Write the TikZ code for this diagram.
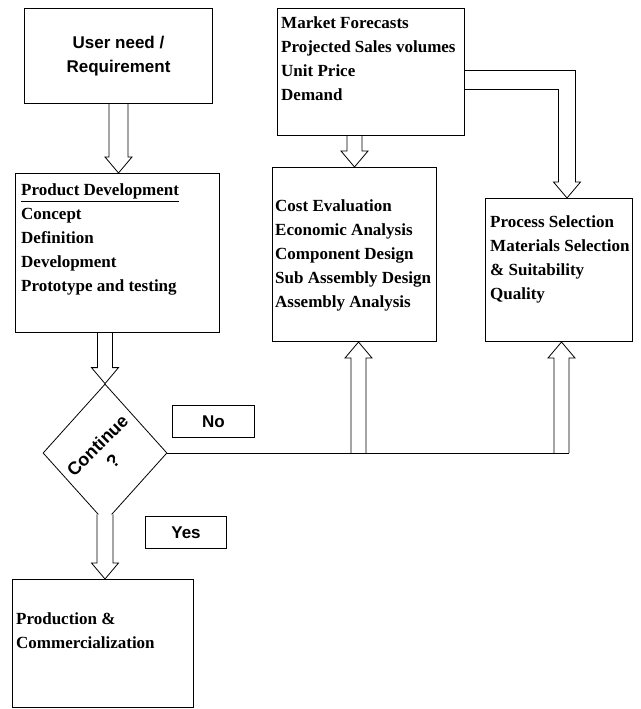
\documentclass[tikz,border=0pt]{standalone}
\usepackage{fontspec}
\setmainfont{Liberation Serif}
\newfontfamily\arial{Liberation Sans}
\usepackage{tikz}
\usetikzlibrary{positioning,calc,shapes.geometric}

% hollow block arrow: [shaft half width]{start}{tip}
\newcommand{\bigarrow}[3][7.5pt]{%
  \draw[blockarr] let \p1=#2, \p2=#3, \n1={ifthenelse(\y2>\y1,1,-1)} in
    ({\x2-#1},{\y1}) -- ({\x2-#1},{\y2-(\n1)*16pt}) -- ({\x2-13.5pt},{\y2-(\n1)*16pt}) -- (\x2,\y2)
    -- ({\x2+13.5pt},{\y2-(\n1)*16pt}) -- ({\x2+#1},{\y2-(\n1)*16pt}) -- ({\x2+#1},{\y1});}

\begin{document}
\begin{tikzpicture}[x=1pt,y=-1pt,
  box/.style={draw,line width=1pt,inner sep=0pt,anchor=north west},
  serif/.style={font=\bfseries\fontsize{17}{24}\selectfont,align=left,inner sep=0pt,anchor=north west},
  sans/.style={font=\arial\bfseries\fontsize{17}{24}\selectfont,align=center},
  blockarr/.style={draw,line width=0.8pt,fill=white,line join=miter}]
\useasboundingbox (0,0) rectangle (640,709);

\node[box,minimum width=188,minimum height=95,sans] (user) at (24,8) {User need /\\Requirement};
\node[box,minimum width=204,minimum height=159] (pd) at (15,173) {};
\node[serif] (pdtxt) at ($(pd.north west)+(6,11)$) {\underline{Product Development}\\Concept\\Definition\\Development\\Prototype and testing};
\node[box,minimum width=187,minimum height=127] (market) at (277,8) {};
\node[serif] (markettxt) at ($(market.north west)+(4,9)$) {Market Forecasts\\Projected Sales volumes\\Unit Price\\Demand};
\node[box,minimum width=164,minimum height=174] (cost) at (272,167) {};
\node[serif] (costtxt) at ($(cost.north west)+(3,33)$) {Cost Evaluation\\Economic Analysis\\Component Design\\Sub Assembly Design\\Assembly Analysis};
\node[box,minimum width=147,minimum height=143] (process) at (485,198) {};
\node[serif] (processtxt) at ($(process.north west)+(5,18)$) {Process Selection\\Materials Selection\\\& Suitability\\Quality};
\node[box,minimum width=181,minimum height=128] (prod) at (12,579) {};
\node[serif] (prodtxt) at ($(prod.north west)+(4,33)$) {Production \&\\Commercialization};

\node[draw,diamond,line width=0.8pt,minimum width=124,minimum height=138,inner sep=0pt] (cont) at (105,453) {};
\node[sans,rotate=45,font=\arial\bfseries\fontsize{18}{22}\selectfont] (conttxt) at (cont.center) {Continue\\?};
\node[box,minimum width=82,minimum height=32,sans] (no) at (172,405) {No};
\node[box,minimum width=81,minimum height=32,sans] (yes) at (145,516) {Yes};

\bigarrow[9.5pt]{(user.south)}{(user.south |- pd.north)}
\bigarrow{(cont.north |- pd.south)}{(cont.north)}
\bigarrow{(cost.north |- market.south)}{(cost.north)}
\bigarrow[8pt]{($(cont.south)+(0,-8)$)}{(cont.south |- prod.north)}

% market to process, bent
\draw[blockarr,fill=none] ($(market.east)+(0,-1.5)$) -| ($(process.north)+(16.5,-16)$) -- ++(5,0)
  -- ($(process.north)+(8,0)$) -- ($(process.north)+(-5.5,-16)$) -- ($(process.north)+(-0.5,-16)$)
  |- ($(market.east)+(0,17.5)$);

\coordinate (costin) at ($(cost.south)+(4,0)$);
\coordinate (procin) at ($(process.south)+(2.5,0)$);
\foreach \t in {costin,procin}{\bigarrow{(\t |- cont.east)}{(\t)}}
\draw[line width=0.8pt] (cont.east) -- ($(procin |- cont.east)+(7.5,0)$);
\end{tikzpicture}
\end{document}
